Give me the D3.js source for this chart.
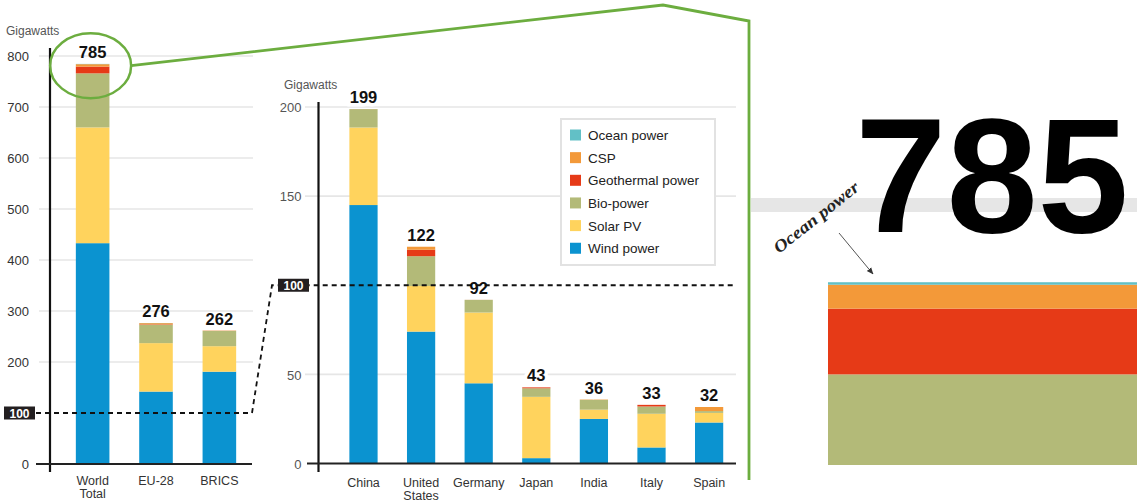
<!DOCTYPE html>
<html><head><meta charset="utf-8">
<script src="https://cdn.jsdelivr.net/npm/d3@7"></script>
<style>
html,body{margin:0;padding:0;background:#fff;}
svg{display:block;font-family:"Liberation Sans",Arial,sans-serif;}
</style></head>
<body>
<svg id="chart" width="1137" height="502"></svg>
<script>
// ---------- data ----------
const seriesKeys = ["Wind power","Solar PV","Bio-power","Geothermal power","CSP","Ocean power"];
const seriesColors = ["#0b93d0","#ffd35d","#b3ba78","#e63a17","#f39939","#62c0c6"];
const legendOrder = ["Ocean power","CSP","Geothermal power","Bio-power","Solar PV","Wind power"];

const regionCats   = ["World Total","EU-28","BRICS"];
const regionTotals = [785,276,262];
const regionWind   = [433,142,181];
const regionSolar  = [227,95,50];
const regionBio    = [106,36,30];
const regionGeo    = [13.2,0.9,0.2];
const regionCSP    = [4.8,2.3,0.5];
const regionOcean  = [0.5,0.25,0];

const countryCats   = ["China","United States","Germany","Japan","India","Italy","Spain"];
const countryTotals = [199,122,92,43,36,33,32];
const countryWind   = [145,74,45,3,25,9,23];
const countrySolar  = [43.5,25.6,39.7,34.4,5.2,18.9,5.4];
const countryBio    = [10.3,16.7,7.1,4.8,5.5,4.1,1];
const countryGeo    = [0.03,3.6,0.03,0.5,0,0.9,0];
const countryCSP    = [0,1.7,0,0,0.2,0,2.3];
const countryOcean  = [0,0,0,0,0,0,0];

const leftTicks  = [0,200,300,400,500,600,700,800];
const leftGrid   = [200,300,400,500,600,700,800];
const midTicks   = [0,50,150,200];
const midGrid    = [50,150,200];
const refValue   = 100;

// ---------- helpers ----------
function rows(cats, w,s,b,g,c,o){
  return cats.map((cat,i)=>({cat, "Wind power":w[i], "Solar PV":s[i], "Bio-power":b[i],
    "Geothermal power":g[i], "CSP":c[i], "Ocean power":o[i]}));
}
const color = d3.scaleOrdinal(seriesKeys, seriesColors);
const stack = d3.stack().keys(seriesKeys);
const regionRows  = rows(regionCats, regionWind, regionSolar, regionBio, regionGeo, regionCSP, regionOcean);
const countryRows = rows(countryCats, countryWind, countrySolar, countryBio, countryGeo, countryCSP, countryOcean);

const svg = d3.select("#chart");
const gridColor = "#e6e6e6";

// ---------- left chart ----------
const yL = d3.scaleLinear().domain([0,800]).range([464,56]);
const xL = d3.scaleBand().domain(regionCats).range([60,252]).paddingInner(0.47).paddingOuter(0.25);

const gL = svg.append("g");
gL.selectAll("line.grid").data(leftGrid).join("line")
  .attr("x1",39).attr("x2",253).attr("y1",d=>yL(d)).attr("y2",d=>yL(d))
  .attr("stroke",gridColor).attr("stroke-width",1.6);

gL.selectAll("g.series").data(stack(regionRows)).join("g")
  .attr("fill",d=>color(d.key))
  .selectAll("rect").data(d=>d).join("rect")
  .attr("x",d=>xL(d.data.cat)).attr("width",xL.bandwidth())
  .attr("y",d=>yL(d[1])).attr("height",d=>Math.max(0,yL(d[0])-yL(d[1])));

// axis labels
const axL = d3.axisLeft(yL).tickValues(leftTicks).tickSize(0).tickPadding(0);
gL.append("g").attr("transform","translate(29,0)").call(axL)
  .call(g=>g.select(".domain").remove())
  .call(g=>g.selectAll("text").attr("font-size",13).attr("fill","#333").attr("font-family",null).attr("dy","0.36em"));

gL.append("line").attr("x1",50).attr("x2",50).attr("y1",48).attr("y2",472).attr("stroke","#111").attr("stroke-width",2.2);
gL.append("line").attr("x1",36).attr("x2",252).attr("y1",yL(0)).attr("y2",yL(0)).attr("stroke","#222").attr("stroke-width",2.2);

gL.append("text").attr("x",6).attr("y",35).attr("font-size",12).attr("fill","#555").text("Gigawatts");

// categories
const axLx = d3.axisBottom(xL).tickSize(0).tickPadding(0);
gL.append("g").attr("transform",`translate(0,${yL(0)})`).call(axLx)
  .call(g=>g.select(".domain").remove())
  .call(g=>g.selectAll("text").attr("font-size",12.5).attr("fill","#333").attr("font-family",null).attr("dy",null)
    .attr("y",21).each(function(d){
      const t=d3.select(this); const parts=d.split(" ");
      if(parts.length>1 && d!=="EU-28"){ t.text(null);
        parts.forEach((p,i)=>t.append("tspan").attr("x",0).attr("dy",i?13:0).text(p)); }
    }));

// totals
gL.selectAll("text.total").data(regionRows).join("text")
  .attr("class","total").attr("text-anchor","middle")
  .attr("x",d=>xL(d.cat)+xL.bandwidth()/2)
  .attr("y",(d,i)=>yL(d3.sum(seriesKeys,k=>d[k]))-6)
  .attr("font-size",16.5).attr("font-weight","bold").attr("fill","#111")
  .text((d,i)=>regionTotals[i]);

// ---------- middle chart ----------
const yM = d3.scaleLinear().domain([0,200]).range([463.5,107]);
const xM = d3.scaleBand().domain(countryCats).range([320,752.6]).paddingInner(0.51).paddingOuter(0.51);
const gM = svg.append("g");

gM.selectAll("line.grid").data(midGrid).join("line")
  .attr("x1",305).attr("x2",736).attr("y1",d=>yM(d)).attr("y2",d=>yM(d))
  .attr("stroke",gridColor).attr("stroke-width",1.6);

gM.selectAll("g.series").data(stack(countryRows)).join("g")
  .attr("fill",d=>color(d.key))
  .selectAll("rect").data(d=>d).join("rect")
  .attr("x",d=>xM(d.data.cat)).attr("width",xM.bandwidth())
  .attr("y",d=>yM(d[1])).attr("height",d=>Math.max(0,yM(d[0])-yM(d[1])));

const axM = d3.axisLeft(yM).tickValues(midTicks).tickSize(0).tickPadding(0);
gM.append("g").attr("transform","translate(301.5,0)").call(axM)
  .call(g=>g.select(".domain").remove())
  .call(g=>g.selectAll("text").attr("font-size",13).attr("fill","#555").attr("font-family",null).attr("dy","0.36em"));

gM.append("line").attr("x1",318.5).attr("x2",318.5).attr("y1",102).attr("y2",472).attr("stroke","#111").attr("stroke-width",2.2);
gM.append("line").attr("x1",307).attr("x2",736).attr("y1",yM(0)).attr("y2",yM(0)).attr("stroke","#222").attr("stroke-width",2.2);
gM.append("text").attr("x",284).attr("y",89).attr("font-size",12).attr("fill","#555").text("Gigawatts");

const axMx = d3.axisBottom(xM).tickSize(0).tickPadding(0);
gM.append("g").attr("transform",`translate(0,${yM(0)})`).call(axMx)
  .call(g=>g.select(".domain").remove())
  .call(g=>g.selectAll("text").attr("font-size",12.5).attr("fill","#333").attr("font-family",null).attr("dy",null)
    .attr("y",23).each(function(d){
      const t=d3.select(this); const parts=d.split(" ");
      if(parts.length>1){ t.text(null);
        parts.forEach((p,i)=>t.append("tspan").attr("x",0).attr("dy",i?13:0).text(p)); }
    }));

// ---------- 100 reference dashed line ----------
const dash = svg.append("g");
dash.append("path")
  .attr("d",`M36,${yL(refValue)} L252,${yL(refValue)} L272,${yM(refValue)} L736,${yM(refValue)}`)
  .attr("fill","none").attr("stroke","#111").attr("stroke-width",1.8).attr("stroke-dasharray","5,4");

// middle totals (with halo breaking the dash)
gM.selectAll("text.total").data(countryRows).join("text")
  .attr("class","total").attr("text-anchor","middle")
  .attr("x",d=>xM(d.cat)+xM.bandwidth()/2)
  .attr("y",d=>yM(d3.sum(seriesKeys,k=>d[k]))-6)
  .attr("font-size",16.5).attr("font-weight","bold").attr("fill","#111")
  .attr("stroke","#fff").attr("stroke-width",7).attr("paint-order","stroke")
  .text((d,i)=>countryTotals[i]);

function refBox(x,y){
  dash.append("rect").attr("x",x).attr("y",y-6.5).attr("width",31).attr("height",13).attr("fill","#231f20");
  dash.append("text").attr("x",x+15.5).attr("y",y+4.5).attr("text-anchor","middle")
    .attr("font-size",12).attr("font-weight","bold").attr("fill","#fff").text(refValue);
}
refBox(4,yL(refValue));
refBox(278,yM(refValue));

// ---------- legend ----------
const lg = svg.append("g");
lg.append("rect").attr("x",561).attr("y",119).attr("width",154).attr("height",146)
  .attr("fill","#fff").attr("stroke","#e2e2e2").attr("stroke-width",2);
const li = lg.selectAll("g.item").data(legendOrder).join("g")
  .attr("transform",(d,i)=>`translate(570,${135+i*22.65})`);
li.append("rect").attr("x",0).attr("y",-5.5).attr("width",11).attr("height",11).attr("fill",d=>color(d));
li.append("text").attr("x",18).attr("y",5).attr("font-size",13.5).attr("fill","#222").text(d=>d);

// ---------- zoom annotation ----------
const green = "#6cad3f";
const cx = xL("World Total")+xL.bandwidth()/2 - 2;
const cy = yL(regionTotals[0]) + 2;
svg.append("ellipse").attr("cx",cx).attr("cy",cy).attr("rx",40.5).attr("ry",32.5)
  .attr("fill","none").attr("stroke",green).attr("stroke-width",2.5);
svg.append("path").attr("d",`M${cx+40.5},${cy} L663,5 L749,21 L749,480`)
  .attr("fill","none").attr("stroke",green).attr("stroke-width",2.8).attr("stroke-linejoin","miter");

// ---------- inset ----------
const yI = d3.scaleLinear().domain([766,800]).range([374.4,205]);
svg.append("clipPath").attr("id","insetClip").append("rect")
  .attr("x",751).attr("y",0).attr("width",386).attr("height",465);
const gI = svg.append("g").attr("clip-path","url(#insetClip)");
gI.append("line").attr("x1",751).attr("x2",1137).attr("y1",yI(800)).attr("y2",yI(800))
  .attr("stroke","#e6e6e6").attr("stroke-width",14);
gI.selectAll("rect.seg").data(stack([regionRows[0]])).join("rect")
  .attr("class","seg").attr("fill",d=>color(d.key))
  .attr("x",828).attr("width",320)
  .attr("y",d=>yI(d[0][1])).attr("height",d=>Math.max(0,yI(d[0][0])-yI(d[0][1])));
gI.append("text").attr("x",992).attr("y",232).attr("text-anchor","middle")
  .attr("font-size",164).attr("font-weight","bold").attr("fill","#000").text(regionTotals[0]);

// "Ocean power" note
svg.append("defs").append("marker").attr("id","arr").attr("viewBox","0 0 10 10")
  .attr("refX",9).attr("refY",5).attr("markerWidth",7).attr("markerHeight",7).attr("orient","auto")
  .append("path").attr("d","M0,1 L10,5 L0,9 Z").attr("fill","#333");
svg.append("line").attr("x1",839).attr("y1",233).attr("x2",873).attr("y2",274)
  .attr("stroke","#555").attr("stroke-width",1).attr("marker-end","url(#arr)");
svg.append("text").attr("transform","translate(779,254) rotate(-38.5)")
  .attr("font-family","'Liberation Serif',serif").attr("font-style","italic").attr("font-weight","bold")
  .attr("font-size",17).attr("textLength",104).attr("lengthAdjust","spacingAndGlyphs")
  .attr("fill","#222").text("Ocean power");
</script>
</body></html>
